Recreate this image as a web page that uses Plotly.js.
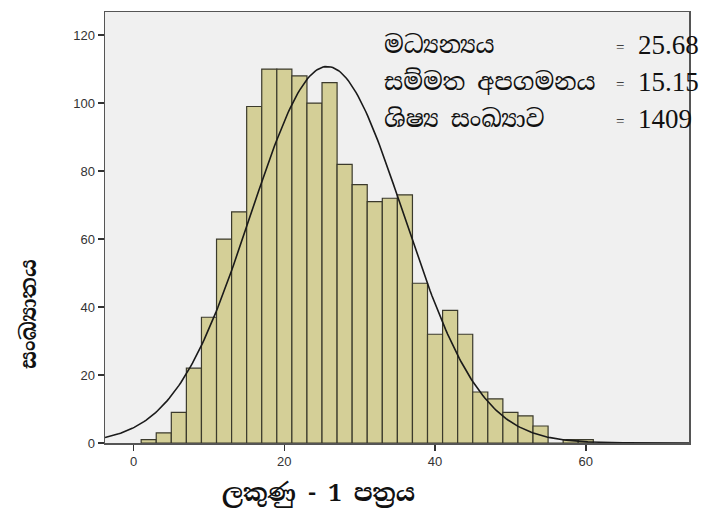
<!DOCTYPE html>
<html>
<head>
<meta charset="utf-8">
<script src="https://cdn.plot.ly/plotly-3.0.1.min.js"></script>
<style>
  html, body { margin: 0; padding: 0; background: #ffffff; }
  #chart { width: 701px; height: 509px; }
</style>
</head>
<body>
<div id="chart"></div>
<script>
// Histogram bins (centres, width 2) and counts
const binCenters = [2, 4, 6, 8, 10, 12, 14, 16, 18, 20, 22, 24, 26, 28, 30, 32, 34, 36, 38, 40, 42, 44, 46, 48, 50, 52, 54, 56, 58, 60];
const counts     = [1, 3, 9, 22, 37, 60, 68, 99, 110, 110, 108, 100, 106, 82, 76, 71, 72, 73, 47, 32, 39, 32, 15, 13, 9, 8, 5, 0, 1, 1];
const binWidth = 2;

const xTicks = [0, 20, 40, 60];
const yTicks = [0, 20, 40, 60, 80, 100, 120];

const statLabels = ["මධ්‍යන්‍යය", "සම්මත අපගමනය", "ශිෂ්‍ය සංඛ්‍යාව"];
const statValues = ["25.68", "15.15", "1409"];

const xTitle = "ලකුණු - 1 පත්‍රය";
const yTitle = "සංඛ්‍යාතය";

// Fitted normal curve from the histogram's own mean and standard deviation
const N = counts.reduce((a, b) => a + b, 0);
const mean = binCenters.reduce((s, c, i) => s + c * counts[i], 0) / N;
const variance = binCenters.reduce((s, c, i) => s + counts[i] * (c - mean) ** 2, 0) / (N - 1);
const sd = Math.sqrt(variance);
const xRange = [-3.8, 73.7];
const curveX = [], curveY = [];
for (let k = 0; k <= 300; k++) {
  const x = xRange[0] + (xRange[1] - xRange[0]) * k / 300;
  curveX.push(x);
  curveY.push(N * binWidth * Math.exp(-0.5 * ((x - mean) / sd) ** 2) / (sd * Math.sqrt(2 * Math.PI)));
}

const sinhalaFont = '"Noto Serif Sinhala", "Noto Sans Sinhala", "Iskoola Pota", "Liberation Serif", serif';
const numFont = '"Liberation Serif", "Times New Roman", serif';

const traces = [
  {
    type: 'bar',
    x: binCenters,
    y: counts,
    width: binWidth,
    marker: { color: '#d4cf97', line: { color: '#3b3a2c', width: 1.2 } },
    hoverinfo: 'x+y'
  },
  {
    type: 'scatter',
    mode: 'lines',
    x: curveX,
    y: curveY,
    line: { color: '#1a1a1a', width: 1.6 },
    hoverinfo: 'skip'
  }
];

const annotations = [];
const rowY = [45, 82, 119];
statLabels.forEach((lbl, i) => {
  annotations.push({ xref: 'paper', yref: 'paper', x: (382 - 105) / 584, y: 1 - (rowY[i] - 12) / 431,
    xanchor: 'left', yanchor: 'middle', showarrow: false, text: lbl,
    font: { family: sinhalaFont, size: 24, color: '#111' } });
  annotations.push({ xref: 'paper', yref: 'paper', x: (620 - 105) / 584, y: 1 - (rowY[i] + 2 - 12) / 431,
    xanchor: 'center', yanchor: 'middle', showarrow: false, text: '=',
    font: { family: numFont, size: 15, color: '#111' } });
  annotations.push({ xref: 'paper', yref: 'paper', x: (636 - 105) / 584, y: 1 - (rowY[i] - 12) / 431,
    xanchor: 'left', yanchor: 'middle', showarrow: false, text: statValues[i],
    font: { family: numFont, size: 27, color: '#111' } });
});
annotations.push({ xref: 'paper', yref: 'paper', x: (318 - 105) / 584, y: 1 - (493 - 12) / 431,
  xanchor: 'center', yanchor: 'middle', showarrow: false, text: '<b>' + xTitle + '</b>',
  font: { family: sinhalaFont, size: 24, color: '#111' } });
annotations.push({ xref: 'paper', yref: 'paper', x: (28 - 105) / 584, y: 1 - (314 - 12) / 431,
  xanchor: 'center', yanchor: 'middle', showarrow: false, textangle: -90, text: '<b>' + yTitle + '</b>',
  font: { family: sinhalaFont, size: 22, color: '#111' } });

const layout = {
  width: 701, height: 509,
  margin: { l: 105, r: 12, t: 12, b: 66, pad: 0 },
  paper_bgcolor: '#ffffff',
  plot_bgcolor: '#f0f0f0',
  showlegend: false,
  bargap: 0,
  xaxis: {
    range: xRange, tickvals: xTicks, ticktext: xTicks.map(String),
    ticks: 'outside', ticklen: 6, tickwidth: 1.5, tickcolor: '#333',
    showgrid: false, zeroline: false,
    showline: true, linecolor: '#555', linewidth: 1.5, mirror: true,
    tickfont: { family: 'Liberation Sans, Arial, sans-serif', size: 13, color: '#333' }
  },
  yaxis: {
    range: [0, 126.8], tickvals: yTicks, ticktext: yTicks.map(String),
    ticks: 'outside', ticklen: 6, tickwidth: 1.5, tickcolor: '#333',
    showgrid: false, zeroline: false,
    showline: true, linecolor: '#555', linewidth: 1.5, mirror: true,
    tickfont: { family: 'Liberation Sans, Arial, sans-serif', size: 13, color: '#333' }
  },
  annotations: annotations
};

Plotly.newPlot('chart', traces, layout, { displayModeBar: false, staticPlot: true });
</script>
</body>
</html>
